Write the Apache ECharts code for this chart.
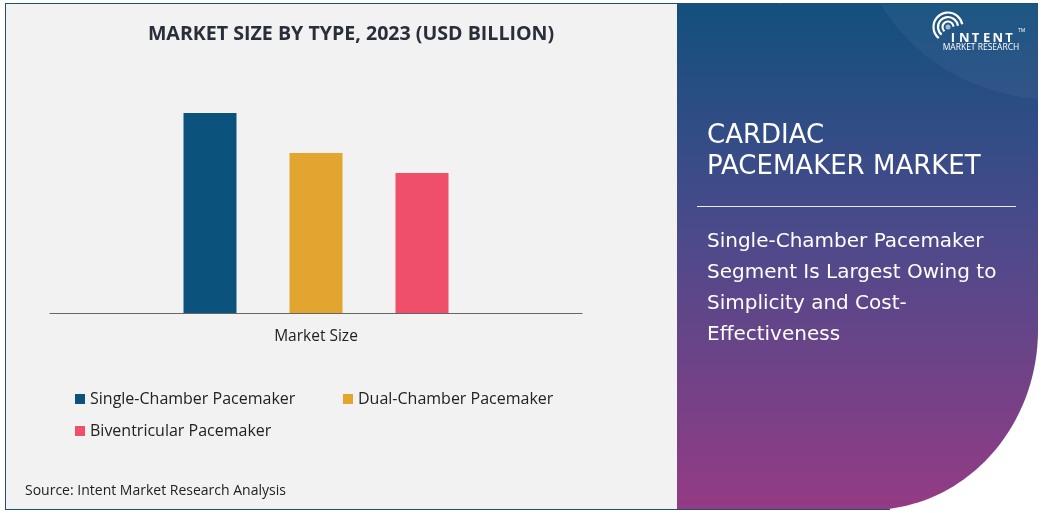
<!DOCTYPE html>
<html>
<head>
<meta charset="utf-8">
<script src="https://cdn.jsdelivr.net/npm/echarts@6/dist/echarts.min.js"></script>
<style>
html,body{margin:0;padding:0;background:#ffffff;}
#chart{width:1043px;height:513px;}
</style>
</head>
<body>
<div id="chart"></div>
<script>
const categories = ['Market Size'];
const seriesNames = ['Single-Chamber Pacemaker', 'Dual-Chamber Pacemaker', 'Biventricular Pacemaker'];
const seriesValues = [2.0, 1.6, 1.4];
const seriesColors = ['#0b527c', '#e2a52f', '#ef4f68'];
const titleText = 'MARKET SIZE BY TYPE, 2023 (USD BILLION)';
const sourceText = 'Source: Intent Market Research Analysis';
const panelTitle = ['CARDIAC', 'PACEMAKER MARKET'];
const panelSubtitle = ['Single-Chamber Pacemaker', 'Segment Is Largest Owing to', 'Simplicity and Cost-', 'Effectiveness'];
const logoWord = 'INTENT';

const FONT = 'Open Sans';
const chart = echarts.init(document.getElementById('chart'), null, {renderer: 'canvas'});

// right panel outline with elliptical bottom-right corner
const panelPts = [[677, 4], [1038, 4], [1038, 330]];
for (let k = 1; k <= 48; k++) {
  const t = (k / 48) * Math.PI / 2;
  panelPts.push([870 + 168 * Math.cos(t), 330 + 180 * Math.sin(t)]);
}
panelPts.push([677, 510]);

const graphics = [
  {type: 'rect', z: -10, shape: {x: 5.5, y: 3.5, width: 672, height: 506}, style: {fill: '#f2f2f2', stroke: '#1d4f73', lineWidth: 1}},
  {type: 'polygon', z: -9, shape: {points: panelPts},
    style: {fill: new echarts.graphic.LinearGradient(0, 0, 0, 1, [
      {offset: 0, color: '#12507e'},
      {offset: 0.45, color: '#4b4a8b'},
      {offset: 1, color: '#943b84'}
    ])}},
  {type: 'circle', z: -8, shape: {cx: 1050, cy: -100, r: 199}, style: {fill: 'rgba(255,255,255,0.045)'}},
  {type: 'rect', z: -7, shape: {x: 1038, y: 0, width: 10, height: 513}, style: {fill: '#ffffff'}},
  {type: 'rect', z: -7, shape: {x: 677, y: 0, width: 370, height: 3}, style: {fill: '#ffffff'}},
  {type: 'line', z: -6, shape: {x1: 5, y1: 3.5, x2: 1038, y2: 3.5}, style: {stroke: '#1d4f73', lineWidth: 1}},
  {type: 'line', z: -6, shape: {x1: 5, y1: 509.5, x2: 890, y2: 509.5}, style: {stroke: '#1d4f73', lineWidth: 1}},
  // logo arcs
  {type: 'circle', shape: {cx: 948, cy: 27, r: 2.5}, style: {fill: 'rgba(255,255,255,0.6)'}},
  {type: 'arc', shape: {cx: 948, cy: 27, r: 5.5, startAngle: Math.PI * 0.72, endAngle: Math.PI * 1.98}, style: {stroke: '#ffffff', lineWidth: 2.2, fill: 'none'}},
  {type: 'arc', shape: {cx: 948, cy: 27, r: 10, startAngle: Math.PI * 0.72, endAngle: Math.PI * 1.96}, style: {stroke: '#ffffff', lineWidth: 2.2, fill: 'none'}},
  {type: 'arc', shape: {cx: 948, cy: 27, r: 14.5, startAngle: Math.PI * 0.72, endAngle: Math.PI * 1.94}, style: {stroke: '#ffffff', lineWidth: 2.2, fill: 'none'}},
  {type: 'text', style: {x: 1018, y: 31, text: 'TM', font: '5px "Open Sans"', fill: '#ffffff', verticalAlign: 'middle'}},
  {type: 'text', style: {x: 981, y: 48, text: 'MARKET RESEARCH', font: '8.5px "Liberation Sans Narrow", "Open Sans"', fill: '#ffffff', align: 'center', verticalAlign: 'middle'}},
  // panel title
  {type: 'text', style: {x: 707, y: 136, text: panelTitle[0], font: '26px "DejaVu Sans"', fill: '#ffffff', verticalAlign: 'middle'}},
  {type: 'text', style: {x: 707, y: 167, text: panelTitle[1], font: '26px "DejaVu Sans"', fill: '#ffffff', verticalAlign: 'middle'}},
  {type: 'line', shape: {x1: 697, y1: 206.5, x2: 1016, y2: 206.5}, style: {stroke: 'rgba(255,255,255,0.9)', lineWidth: 1}},
  // left panel texts
  {type: 'text', style: {x: 351, y: 34, text: titleText, font: 'bold 19.6px "Open Sans"', fill: '#2a2d3a', align: 'center', verticalAlign: 'middle'}},
  {type: 'text', style: {x: 25, y: 491, text: sourceText, font: '14px "Open Sans"', fill: '#222222', verticalAlign: 'middle'}}
];
for (let i = 0; i < logoWord.length; i++) {
  graphics.push({type: 'text', style: {x: 953 + i * 11.2, y: 38, text: logoWord[i], font: 'bold 13px "Open Sans"', fill: '#ffffff', align: 'center', verticalAlign: 'middle'}});
}
panelSubtitle.forEach(function (line, i) {
  graphics.push({type: 'text', style: {x: 707, y: 242 + i * 31, text: line, font: '20px "DejaVu Sans"', fill: '#ffffff', verticalAlign: 'middle'}});
});

function legendAt(left, top, name) {
  return {left: left, top: top, padding: 0, itemWidth: 10, itemHeight: 10, itemGap: 0, itemTextGap: 5, icon: 'rect',
    textStyle: {fontSize: 16, color: '#222222', fontFamily: FONT}, data: [name]};
}

const option = {
  animation: false,
  backgroundColor: 'transparent',
  grid: {left: 50, right: 461, top: 113, bottom: 200, containLabel: false},
  xAxis: {
    type: 'category', data: categories,
    axisLine: {lineStyle: {color: '#666666', width: 1}},
    axisTick: {show: false},
    axisLabel: {color: '#222222', fontSize: 15.5, fontFamily: FONT, margin: 16}
  },
  yAxis: {type: 'value', min: 0, max: 2.0, show: false, splitLine: {show: false}},
  legend: [
    legendAt(75, 391, seriesNames[0]),
    legendAt(343, 391, seriesNames[1]),
    legendAt(75, 423, seriesNames[2])
  ],
  series: seriesNames.map(function (name, i) {
    return {name: name, type: 'bar', data: [seriesValues[i]], barWidth: 53, barGap: '100%',
      itemStyle: {color: seriesColors[i]}};
  }),
  graphic: {elements: graphics}
};
chart.setOption(option);
</script>
</body>
</html>
